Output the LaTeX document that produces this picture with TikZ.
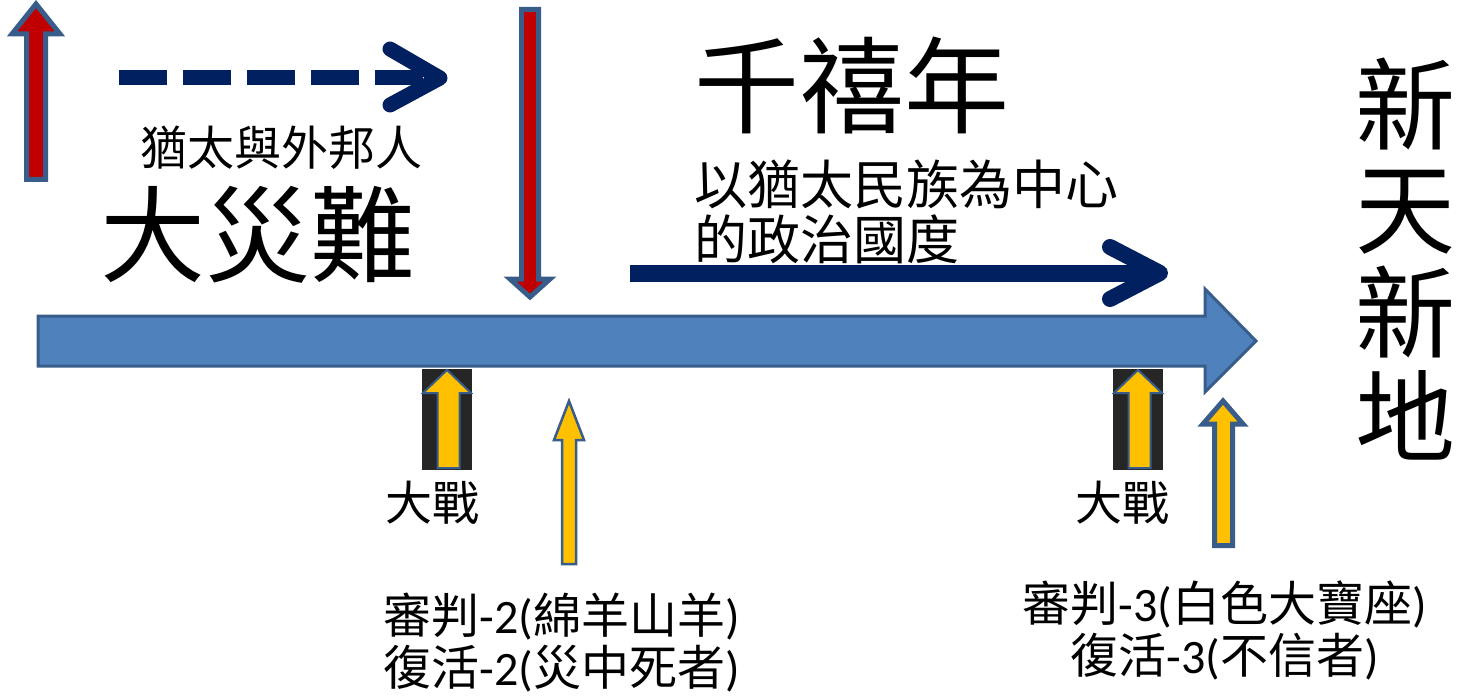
\documentclass[tikz,border=0pt]{standalone}
\usepackage{fontspec}
\setmainfont{Noto Sans CJK TC}
\newfontfamily\lat{Carlito}
\definecolor{navy}{HTML}{002060}
\definecolor{barblue}{HTML}{4F81BD}
\definecolor{edgeblue}{HTML}{385D8A}
\definecolor{darkred}{HTML}{C00000}
\definecolor{gold}{HTML}{FFC000}
\definecolor{boxgray}{HTML}{262626}
\tikzset{
  txt/.style={inner sep=0pt},
  redarr/.style={fill=darkred, draw=edgeblue, line width=5pt},
  goldarr/.style={fill=gold, draw=edgeblue, line width=2pt},
  navyline/.style={navy, line width=16pt, line cap=round, line join=round}
}
\begin{document}
\begin{tikzpicture}[x=1pt,y=-1pt]
  \useasboundingbox (0,0) rectangle (1457,698);
  % main time line
  \draw[fill=barblue, draw=edgeblue, line width=3pt] (38,316) -- (1205,316) -- (1205,289) -- (1256,341) -- (1205,392) -- (1205,366) -- (38,366) -- cycle;
  % rapture up, coming down
  \draw[redarr] (26.5,179.5) -- (26.5,34) -- (12,34) -- (36,4) -- (60,34) -- (45.5,34) -- (45.5,179.5) -- cycle;
  \draw[redarr] (521.5,9.5) -- (538.5,9.5) -- (538.5,279) -- (550,279) -- (530,297) -- (510,279) -- (521.5,279) -- cycle;
  % dashed and solid arrows
  \draw[navy, line width=15pt, dash pattern=on 48pt off 16pt] (119,78) -- (436,78);
  \draw[navyline, line width=15pt] (390,49) -- (440,78) -- (390,105);
  \draw[navy, line width=17pt] (630,273) -- (1155,273);
  \draw[navyline] (1110,247) -- (1160,273) -- (1110,299);
  % battles
  \fill[boxgray] (422,369) rectangle (472,470);
  \draw[goldarr] (437.5,468) -- (437.5,393) -- (423,393) -- (447,370) -- (471,393) -- (459.5,393) -- (459.5,468) -- cycle;
  \fill[boxgray] (1113,369) rectangle (1163,470);
  \draw[goldarr] (1128.5,468) -- (1128.5,393) -- (1114,393) -- (1138,370) -- (1162,393) -- (1150.5,393) -- (1150.5,468) -- cycle;
  % judgements
  \draw[goldarr, line width=2.5pt] (562,564) -- (562,440) -- (554,440) -- (569,401) -- (584,440) -- (576,440) -- (576,564) -- cycle;
  \draw[goldarr, line width=5pt] (1214.5,545.5) -- (1214.5,424) -- (1203,424) -- (1223,401) -- (1243,424) -- (1232.5,424) -- (1232.5,545.5) -- cycle;
  % labels
  \node[txt, font=\fontsize{47}{56}\selectfont] (gentiles) at (281,148) {猶太與外邦人};
  \node[txt, font=\fontsize{105}{120}\selectfont] (tribulation) at (258,235) {大災難};
  \node[txt, font=\fontsize{105}{120}\selectfont] (millennium) at (852,85) {千禧年};
  \node[txt, font=\fontsize{53}{55}\selectfont, align=left, anchor=west] (kingdom) at (694,212) {以猶太民族為中心\\的政治國度};
  \node[txt, font=\fontsize{100}{104}\selectfont, align=center] (newearth) at (1405,259) {新\\天\\新\\地};
  \node[txt, font=\fontsize{47}{56}\selectfont] (warone) at (432,503) {大戰};
  \node[txt, font=\fontsize{47}{56}\selectfont] (wartwo) at (1122,503) {大戰};
  \node[txt, font=\fontsize{48}{52}\selectfont, align=center] (judgetwo) at (562,643) {審判{\lat -2(}綿羊山羊{\lat )}\\復活{\lat -2(}災中死者{\lat )}};
  \node[txt, font=\fontsize{48}{52}\selectfont, align=center] (judgethree) at (1225,630) {審判{\lat -3(}白色大寶座{\lat )}\\復活{\lat -3(}不信者{\lat )}};
\end{tikzpicture}
\end{document}
